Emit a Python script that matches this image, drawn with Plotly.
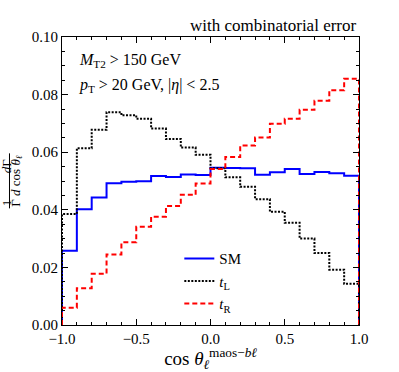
import plotly.graph_objects as go

# bin edges of cos(theta) and the three normalised distributions
edges = [-1.0, -0.9, -0.8, -0.7, -0.6, -0.5, -0.4, -0.3, -0.2, -0.1, 0.0,
         0.1, 0.2, 0.3, 0.4, 0.5, 0.6, 0.7, 0.8, 0.9, 1.0]
sm = [0.0258, 0.0402, 0.0443, 0.0492, 0.0497, 0.0499, 0.0517, 0.0514, 0.0523, 0.0521,
      0.0546, 0.0545, 0.0544, 0.0522, 0.0530, 0.0542, 0.0524, 0.0531, 0.0527, 0.0518]
t_left = [0.0385, 0.0614, 0.0678, 0.0739, 0.0728, 0.0716, 0.0682, 0.0646, 0.0616, 0.0591,
          0.0544, 0.0513, 0.0480, 0.0437, 0.0393, 0.0355, 0.0300, 0.0250, 0.0192, 0.0143]
t_right = [0.0060, 0.0128, 0.0178, 0.0245, 0.0287, 0.0341, 0.0376, 0.0413, 0.0452, 0.0491,
           0.0542, 0.0583, 0.0623, 0.0651, 0.0699, 0.0716, 0.0747, 0.0779, 0.0815, 0.0855]

series = [
    ('SM', sm, 'blue', 'solid'),
    ('<i>t</i><sub>L</sub>', t_left, 'black', '2px,1.5px'),
    ('<i>t</i><sub>R</sub>', t_right, 'red', '5px,3px'),
]

FONT = 'Liberation Serif'


def step_xy(vals):
    # outline of a step histogram, closed down to zero at both ends
    xs = [edges[0]] + edges[:-1] + [edges[-1], edges[-1]]
    ys = [0] + list(vals) + [vals[-1], 0]
    return xs, ys


fig = go.Figure()
for name, vals, color, dash in series:
    xs, ys = step_xy(vals)
    fig.add_trace(go.Scatter(x=xs, y=ys, mode='lines', name=name, line_shape='hv',
                             line=dict(color=color, width=2, dash=dash)))

axis_common = dict(
    showline=True, linecolor='black', linewidth=1, mirror='allticks', automargin=False,
    showgrid=False, zeroline=False, ticks='inside', ticklen=6, tickcolor='black',
    tickfont=dict(family=FONT, size=15, color='black'),
)

fig.update_xaxes(range=[-1, 1], dtick=0.5, tickformat='.1f',
                 minor=dict(dtick=0.1, ticks='inside', ticklen=3, tickcolor='black'),
                 title=dict(text='cos <i>θ</i><sub><i>ℓ</i></sub><sup>maos−<i>bℓ</i></sup>',
                            font=dict(family=FONT, size=19, color='black'), standoff=7),
                 **axis_common)
fig.update_yaxes(range=[0, 0.1], dtick=0.02, tickformat='.2f',
                 minor=dict(dtick=0.005, ticks='inside', ticklen=3, tickcolor='black'),
                 **axis_common)

fig.update_layout(
    width=399, height=372,
    margin=dict(l=62, r=40, t=37, b=47),
    plot_bgcolor='white', paper_bgcolor='white',
    font=dict(family=FONT, color='black'),
    legend=dict(x=0.395, y=0.287, xanchor='left', yanchor='top',
                bgcolor='rgba(0,0,0,0)', font=dict(family=FONT, size=15)),
)

annotations = []
annotations.append(dict(xref='paper', yref='paper', x=1.0, y=1.0, xanchor='right', yanchor='bottom',
                        text='with combinatorial error', showarrow=False,
                        font=dict(family=FONT, size=17)))
annotations.append(dict(xref='paper', yref='paper', x=0.05, y=0.92, xanchor='left', yanchor='middle',
                        text='<i>M</i><sub>T2</sub> > 150 GeV', showarrow=False,
                        font=dict(family=FONT, size=16)))
annotations.append(dict(xref='paper', yref='paper', x=0.05, y=0.83, xanchor='left', yanchor='middle',
                        text='<i>p</i><sub>T</sub> > 20 GeV, |<i>η</i>| < 2.5', showarrow=False,
                        font=dict(family=FONT, size=16)))
# y-axis label drawn as a stacked fraction
annotations.append(dict(xref='paper', yref='paper', x=-0.1886, y=0.426, xanchor='center', yanchor='middle',
                        text='1', textangle=-90, showarrow=False, font=dict(family=FONT, size=13)))
annotations.append(dict(xref='paper', yref='paper', x=-0.1886, y=0.555, xanchor='center', yanchor='middle',
                        text='<i>d</i>Γ', textangle=-90, showarrow=False, font=dict(family=FONT, size=13)))
annotations.append(dict(xref='paper', yref='paper', x=-0.156, y=0.5, xanchor='center', yanchor='middle',
                        text='Γ <i>d</i> cos <i>θ</i><sub><i>ℓ</i></sub>', textangle=-90,
                        showarrow=False, font=dict(family=FONT, size=13)))
fig.update_layout(annotations=annotations)
fig.add_shape(type='line', xref='paper', yref='paper', x0=-0.1768, x1=-0.1768, y0=0.405, y1=0.596,
              line=dict(color='black', width=1))

fig.write_html("out.html", config={'displayModeBar': False},
               post_script="document.body.style.margin='0';")
